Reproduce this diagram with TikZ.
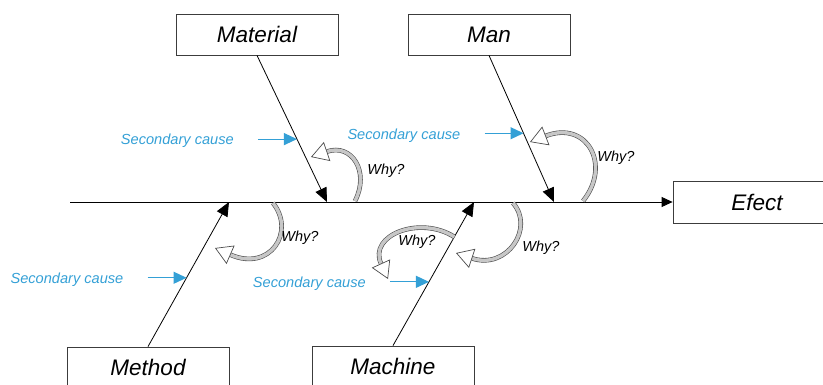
\documentclass[tikz,border=0pt]{standalone}
\usepackage{fontspec}
\setmainfont{Liberation Sans}
\usetikzlibrary{arrows.meta,calc}
\definecolor{causeblue}{RGB}{52,160,214}
\definecolor{boxline}{RGB}{60,60,60}
\begin{document}
\begin{tikzpicture}[x=1pt,y=-1pt,
  catbox/.style={draw=boxline,line width=0.8pt,fill=white,minimum width=162pt,minimum height=41pt,
                 inner sep=0pt,font=\fontsize{22.5}{26}\selectfont\itshape},
  bone/.style={draw=black,line width=0.8pt,-{Triangle[length=14pt,width=12pt]}},
  spine/.style={draw=black,line width=0.8pt,-{Triangle[length=11pt,width=10pt]}},
  sclabel/.style={text=causeblue,font=\fontsize{14.6}{17}\selectfont\itshape,anchor=east,inner sep=0pt},
  scarrow/.style={draw=causeblue,line width=1.1pt,-{Triangle[length=13pt,width=12pt]}},
  whylabel/.style={font=\fontsize{14.5}{17}\selectfont\itshape,inner sep=0pt},
  whyarrow/.style={draw=black!70,line width=0.6pt,double=black!22,double distance=3.4pt,
                   -{Triangle[fill=white,line width=0.7pt,length=17pt,width=20pt]}}]
\useasboundingbox (0,0) rectangle (823,385);

% category boxes and the effect box
\node[catbox] (material) at (257,34.5) {Material};
\node[catbox] (man)      at (489,34.5) {Man};
\node[catbox] (method)   at (148,367.5) {Method};
\node[catbox] (machine)  at (393,366.5) {Machine};
\node[catbox,minimum width=168pt,minimum height=42pt] (effect) at (757,202) {Efect};

% main spine
\coordinate (tail) at (70,202);
\draw[spine] (tail) -- (effect.west);

% points where the bones meet the spine
\coordinate (matT) at (327,202);
\coordinate (manT) at (554,202);
\coordinate (metT) at (229,202);
\coordinate (macT) at (474,202);

% bones
\draw[bone] (material.south) -- coordinate[pos=0.571] (matS) (matT);
\draw[bone] (man.south) -- coordinate[pos=0.531] (manS) (manT);
\draw[bone] (method.north) -- coordinate[pos=0.476] (metS) (metT);
\draw[bone] (machine.north) -- coordinate[pos=0.444] (macS) coordinate[pos=0.757] (macW) (macT);

% secondary causes
\foreach \p/\n/\dy in {matS/a/2,manS/b/2,metS/c/2,macS/d/2}{
  \coordinate (s\n) at ($(\p)+(-39,0)$);
  \draw[scarrow] (s\n) -- (\p);
  \node[sclabel] (l\n) at ($(s\n)+(-24,\dy)$) {Secondary cause};
}

% "why?" loops
\coordinate (w1) at (355,201);
\coordinate (w2) at (583,201);
\coordinate (w3) at (273,203);
\coordinate (w5) at (513,203);
\coordinate (e1) at (311,157);
\coordinate (e2) at (530,142);
\coordinate (e3) at (215,248);
\coordinate (e4) at (388,279);
\coordinate (e5) at (456,253);
\draw[whyarrow] (w1) .. controls (370,172) and (352,143) .. (e1);
\draw[whyarrow] (w2) .. controls (612,165) and (587,120) .. (e2);
\draw[whyarrow] (w3) .. controls (296,232) and (270,272) .. (e3);
\draw[whyarrow] (macW) .. controls (420,215) and (368,235) .. (e4);
\draw[whyarrow] (w5) .. controls (535,228) and (507,270) .. (e5);

\node[whylabel] (y1) at (386,171) {Why?};
\node[whylabel] (y2) at (616,158) {Why?};
\node[whylabel] (y3) at (300,238) {Why?};
\node[whylabel] (y4) at (417,242) {Why?};
\node[whylabel] (y5) at (541,248) {Why?};
\end{tikzpicture}
\end{document}
